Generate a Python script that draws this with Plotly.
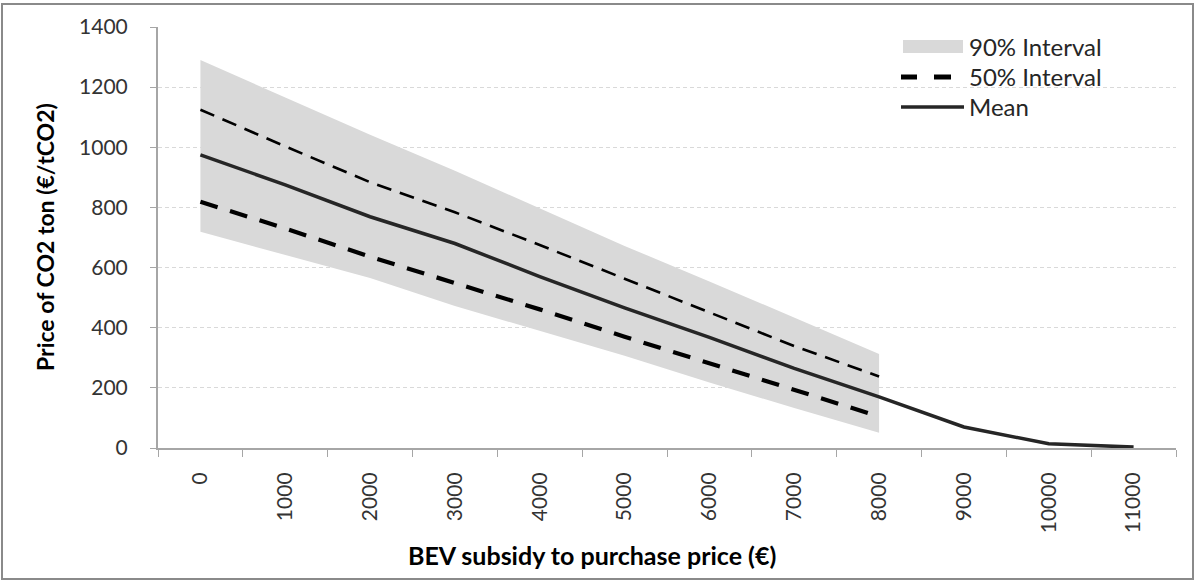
import plotly.graph_objects as go

# ---- data ----
subsidy = ['0', '1000', '2000', '3000', '4000', '5000', '6000', '7000', '8000', '9000', '10000', '11000']
band_x = subsidy[:9]
mean_vals = [975, 875, 769, 680, 570, 466, 368, 265, 170, 70, 14, 3]
p95_vals = [1290, 1167, 1042, 922, 797, 672, 554, 433, 313]
p05_vals = [719, 642, 565, 472, 390, 307, 218, 133, 51]
p75_vals = [1125, 1003, 884, 784, 675, 563, 452, 339, 238]
p25_vals = [819, 730, 636, 549, 461, 370, 282, 191, 105]
y_ticks = [0, 200, 400, 600, 800, 1000, 1200, 1400]

W, H = 1195, 581
ML, MR, MT, MB = 158, 19, 27, 133
PW, PH = W - ML - MR, H - MT - MB
FONT = "Lato"
BAND = "#d9d9d9"


def px(x):
    return (x - ML) / PW


def py(y):
    return (H - MB - y) / PH


fig = go.Figure()
fig.add_trace(go.Scatter(x=band_x, y=p95_vals, mode='lines', line=dict(width=0, color=BAND),
                         hoverinfo='skip', showlegend=False))
fig.add_trace(go.Scatter(x=band_x, y=p05_vals, mode='lines', line=dict(width=0, color=BAND),
                         fill='tonexty', fillcolor=BAND, name='90% Interval', showlegend=False))
fig.add_trace(go.Scatter(x=band_x, y=p75_vals, mode='lines',
                         line=dict(color='black', width=2.6, dash='15px,9px'),
                         name='50% Interval (upper)', showlegend=False))
fig.add_trace(go.Scatter(x=band_x, y=p25_vals, mode='lines',
                         line=dict(color='black', width=4.2, dash='18px,13px'),
                         name='50% Interval', showlegend=False))
fig.add_trace(go.Scatter(x=subsidy, y=mean_vals, mode='lines',
                         line=dict(color='#262626', width=3.5),
                         name='Mean', showlegend=False))

shapes = []
# outer frame
shapes.append(dict(type='rect', xref='paper', yref='paper',
                   x0=px(2), x1=px(1193), y0=py(579), y1=py(4),
                   line=dict(color='#8a8a8a', width=2), fillcolor='rgba(0,0,0,0)', layer='below'))
# legend symbols
shapes.append(dict(type='rect', xref='paper', yref='paper', x0=px(903), x1=px(963),
                   y0=py(53), y1=py(40), line=dict(width=0), fillcolor=BAND))
shapes.append(dict(type='line', xref='paper', yref='paper', x0=px(901), x1=px(917),
                   y0=py(77), y1=py(77), line=dict(color='black', width=5)))
shapes.append(dict(type='line', xref='paper', yref='paper', x0=px(934), x1=px(951),
                   y0=py(77), y1=py(77), line=dict(color='black', width=5)))
shapes.append(dict(type='line', xref='paper', yref='paper', x0=px(901), x1=px(964),
                   y0=py(107), y1=py(107), line=dict(color='#262626', width=3.5)))

annotations = []
for label, yy in [('90% Interval', 46.5), ('50% Interval', 77), ('Mean', 107)]:
    annotations.append(dict(text=label, xref='paper', yref='paper', x=px(967), y=py(yy),
                            xanchor='left', yanchor='middle', showarrow=False,
                            font=dict(family=FONT, size=24, color='#262626')))
annotations.append(dict(text='<b>BEV subsidy to purchase price (€)</b>', xref='paper', yref='paper',
                        x=px(592), y=py(555), xanchor='center', yanchor='middle', showarrow=False,
                        font=dict(family=FONT, size=25, color='black')))
annotations.append(dict(text='<b>Price of CO2 ton (€/tCO2)</b>', xref='paper', yref='paper',
                        x=px(45), y=py(237), xanchor='center', yanchor='middle', showarrow=False,
                        textangle=-90, font=dict(family=FONT, size=23, color='black')))

fig.update_layout(
    width=W, height=H,
    margin=dict(l=ML, r=MR, t=MT, b=MB),
    paper_bgcolor='white', plot_bgcolor='white',
    showlegend=False,
    shapes=shapes, annotations=annotations,
    font=dict(family=FONT, size=21, color='#333333'),
)
fig.update_xaxes(type='category', categoryorder='array', categoryarray=subsidy,
                 range=[-0.5, 11.5], tickson='boundaries', ticks='outside', ticklen=7,
                 tickcolor='#a6a6a6', tickwidth=1.3, showline=True, linecolor='#a6a6a6', linewidth=2,
                 showgrid=False, tickangle=-90, ticklabelstandoff=14,
                 tickfont=dict(family=FONT, size=21, color='#333333'), zeroline=False, fixedrange=True)
fig.update_yaxes(range=[0, 1400], tickvals=y_ticks, ticks='outside', ticklen=6,
                 tickcolor='#a6a6a6', tickwidth=1.3, showline=True, linecolor='#a6a6a6', linewidth=2,
                 showgrid=True, gridcolor='#d9d9d9', griddash='4px,3px', gridwidth=1,
                 ticklabelstandoff=18, zeroline=False,
                 tickfont=dict(family=FONT, size=21, color='#333333'), fixedrange=True)

fig.write_html("out.html", config={'displayModeBar': False},
               post_script="document.body.style.margin='0';document.body.style.overflow='hidden';")
